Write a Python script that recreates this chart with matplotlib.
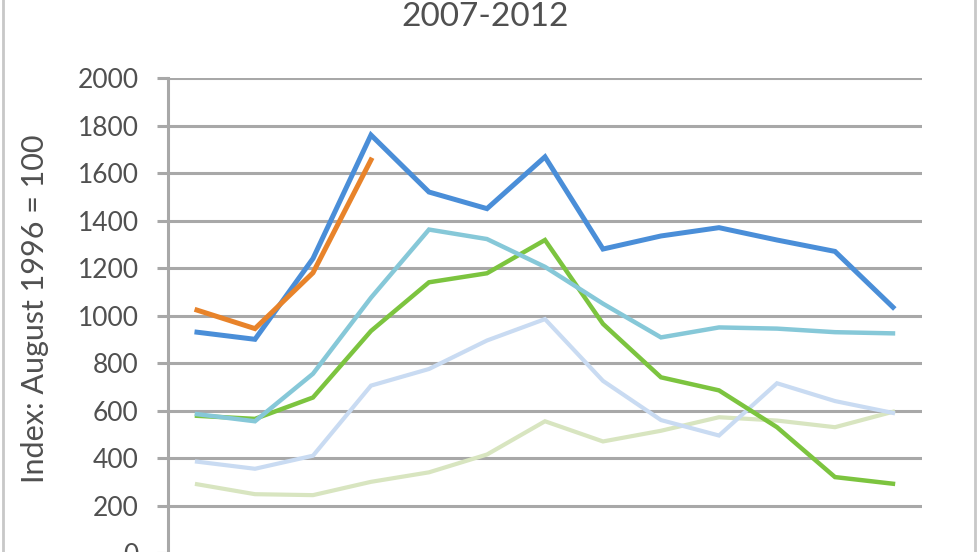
import matplotlib.pyplot as plt
from matplotlib.lines import Line2D

plt.rcParams['font.family'] = ['Lato', 'DejaVu Sans']

# 13 periods, 2007-2012 (axis labels cut off in the reference)
periods = list(range(13))

dark_blue = [930, 900, 1240, 1760, 1520, 1450, 1668, 1280, 1335, 1370, 1318, 1270, 1035]
orange = [1023, 945, 1180, 1655]
teal = [585, 555, 755, 1075, 1362, 1322, 1205, 1050, 908, 950, 945, 930, 925]
green = [578, 565, 655, 935, 1140, 1178, 1318, 965, 740, 685, 530, 320, 292]
pale_blue = [385, 355, 410, 705, 775, 895, 985, 725, 560, 495, 715, 640, 590]
pale_green = [290, 248, 244, 300, 340, 415, 555, 470, 515, 572, 558, 530, 595]

series = [
    (pale_green, '#d8e5c0', 3.0),
    (pale_blue, '#c9dbf2', 3.0),
    (green, '#7cc43f', 3.2),
    (teal, '#86c8d8', 3.2),
    (dark_blue, '#4a8ed8', 3.6),
    (orange, '#e8832a', 3.6),
]

fig = plt.figure(figsize=(9.8, 5.52), dpi=100)
ax = fig.add_axes([0.1714, -0.002, 0.7694, 0.8607])

for values, color, lw in series:
    ax.plot(periods[:len(values)], values, color=color, linewidth=lw,
            solid_joinstyle='miter')

ax.set_xlim(-0.5, 12.5)
ax.set_ylim(0, 2000)
ax.set_yticks(range(0, 2001, 200))
ax.yaxis.grid(True, color='#a8a8a8', linewidth=2.2)
ax.set_axisbelow(True)
ax.set_xticks([])
ax.tick_params(axis='y', length=8, width=2.2, color='#a8a8a8',
               labelsize=19, labelcolor='#505050', pad=13)
for side in ['top', 'right', 'bottom']:
    ax.spines[side].set_visible(False)
ax.spines['left'].set_color('#a8a8a8')
ax.spines['left'].set_linewidth(2.2)

fig.text(0.036, 0.44, 'Index: August 1996 = 100', rotation=90,
         ha='center', va='center', fontsize=22, color='#505050')
fig.text(0.495, 0.970, '2007-2012', ha='center', va='center',
         fontsize=24, color='#505050')

# chart frame edges
fig.add_artist(Line2D([0.003, 0.003], [0, 1], color='#c8c8c8', linewidth=2))
fig.add_artist(Line2D([0.995, 0.995], [0, 1], color='#c8c8c8', linewidth=2))

fig.savefig('out.png', dpi=100)
